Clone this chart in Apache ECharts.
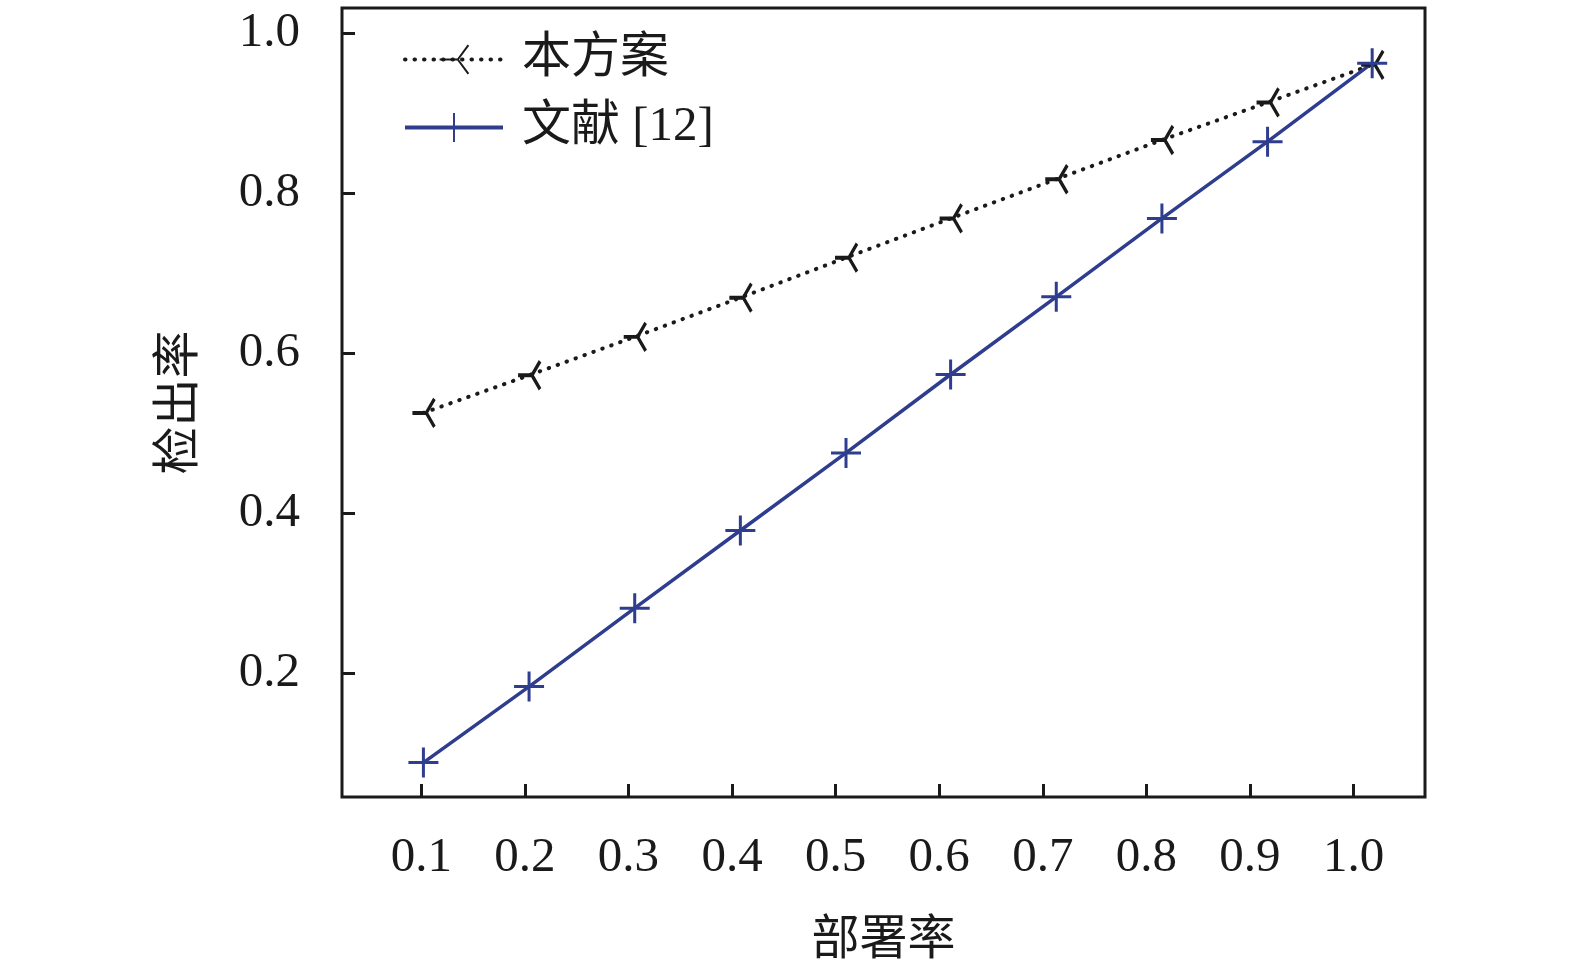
<!DOCTYPE html>
<html>
<head>
<meta charset="utf-8">
<script src="https://cdn.jsdelivr.net/npm/echarts@6/dist/echarts.min.js"></script>
<style>html,body{margin:0;padding:0;background:#fff}#c{width:1575px;height:968px}</style>
</head>
<body>
<div id="c"></div>
<script>
// 数据
const xTicks = [0.1, 0.2, 0.3, 0.4, 0.5, 0.6, 0.7, 0.8, 0.9, 1.0];
const yTicks = [0.2, 0.4, 0.6, 0.8, 1.0];
const xPos = [0.102, 0.204, 0.306, 0.408, 0.510, 0.611, 0.713, 0.815, 0.917, 1.018];
const ours = [0.525, 0.572, 0.620, 0.669, 0.719, 0.768, 0.817, 0.866, 0.913, 0.960];
const ref12 = [0.088, 0.183, 0.281, 0.378, 0.475, 0.573, 0.670, 0.768, 0.864, 0.962];
const names = ["本方案", "文献 [12]"];

const serif = "'Liberation Serif','Noto Sans CJK SC',serif";
const ink = "#1a1a1a";
const blue = "#2f3d8e";

const pair = (xs, ys) => xs.map((x, i) => [x, ys[i]]);

const chart = echarts.init(document.getElementById("c"), null, { renderer: "canvas" });
chart.setOption({
  animation: false,
  backgroundColor: "#fff",
  textStyle: { fontFamily: serif, color: ink },
  grid: {
    left: 342, top: 8, right: 150, bottom: 171,
    outerBoundsMode: "none", containLabel: false,
    show: true, borderColor: ink, borderWidth: 3
  },
  legend: {
    left: 398, top: 30, orient: "vertical",
    itemWidth: 98, itemHeight: 36, itemGap: 19,
    lineStyle: { width: 4 },
    textStyle: { fontSize: 49, fontFamily: serif, color: ink, padding: [0, 0, 0, 14] },
    data: names
  },
  xAxis: {
    type: "value", min: 0.0234, max: 1.069,
    name: "部署率", nameLocation: "middle", nameGap: 120,
    nameTextStyle: { fontSize: 48, fontFamily: serif, color: ink },
    axisLine: { show: false },
    splitLine: { show: false },
    axisTick: { inside: true, length: 13, lineStyle: { width: 3, color: ink }, customValues: xTicks },
    axisLabel: { fontSize: 49, color: ink, margin: 37, customValues: xTicks,
      formatter: v => v.toFixed(1) }
  },
  yAxis: {
    type: "value", min: 0.045, max: 1.031,
    name: "检出率", nameLocation: "middle", nameGap: 138,
    nameTextStyle: { fontSize: 48, fontFamily: serif, color: ink },
    axisLine: { show: false },
    splitLine: { show: false },
    axisTick: { inside: true, length: 13, lineStyle: { width: 3, color: ink }, customValues: yTicks },
    axisLabel: { fontSize: 49, color: ink, margin: 42, customValues: yTicks,
      formatter: v => v.toFixed(1) }
  },
  series: [
    {
      name: names[0], type: "line", data: pair(xPos, ours),
      symbol: "path://M-12,0 L0,0 M0,0 L7,-11 M0,0 L7,11",
      symbolSize: [22, 28], showAllSymbol: true,
      lineStyle: { color: ink, width: 4, type: [0.5, 9], cap: "round" },
      itemStyle: { color: "none", borderColor: ink, borderWidth: 3.5 }
    },
    {
      name: names[1], type: "line", data: pair(xPos, ref12),
      symbol: "path://M0,-10 L0,10 M-10,0 L10,0",
      symbolSize: 30, showAllSymbol: true,
      lineStyle: { color: blue, width: 3.5 },
      itemStyle: { color: "none", borderColor: blue, borderWidth: 3 }
    }
  ]
});
</script>
</body>
</html>
